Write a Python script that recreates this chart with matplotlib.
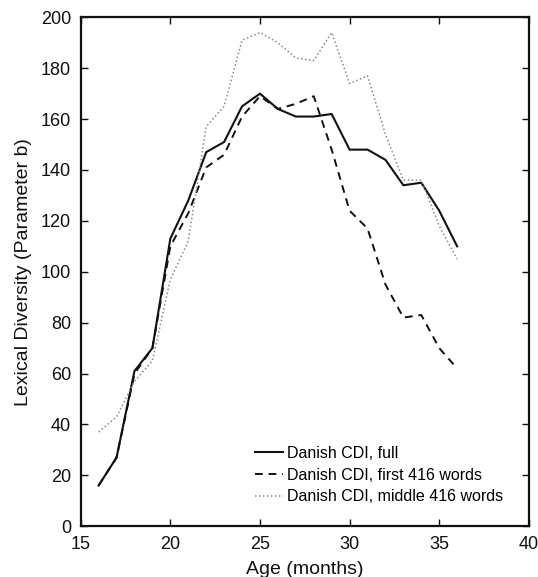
import matplotlib

matplotlib.use("Agg")
import matplotlib.pyplot as plt

plt.rcParams["font.family"] = ["Liberation Sans", "DejaVu Sans"]

# age in months
ages = list(range(16, 37))
# Lexical diversity (parameter b) per CDI version
full = [16, 27, 61, 70, 113, 128, 147, 151, 165, 170, 164, 161, 161, 162,
        148, 148, 144, 134, 135, 124, 110]
first_416 = [16, 27, 60, 70, 110, 123, 141, 146, 161, 169, 164, 166, 169, 148,
             124, 117, 95, 82, 83, 70, 62]
middle_416 = [37, 43, 57, 65, 97, 112, 157, 165, 191, 194, 190, 184, 183, 194,
              174, 177, 154, 136, 136, 118, 105]

xticks = [15, 20, 25, 30, 35, 40]
yticks = list(range(0, 201, 20))

fig = plt.figure(figsize=(5.38, 5.77), dpi=100)
ax = fig.add_axes([0.150, 0.088, 0.833, 0.882])

ax.plot(ages, full, color="#111111", lw=1.5, ls="-", label="Danish CDI, full")
ax.plot(ages, first_416, color="#111111", lw=1.4, ls=(0, (4, 3)),
        label="Danish CDI, first 416 words")
ax.plot(ages, middle_416, color="#8a8a8a", lw=1.1, ls=(0, (1, 1.6)),
        label="Danish CDI, middle 416 words")

ax.set_xlim(15, 40)
ax.set_ylim(0, 200)
ax.set_xticks(xticks)
ax.set_yticks(yticks)
ax.tick_params(direction="in", length=5, width=1, labelsize=13,
               top=True, right=True, colors="#111111", pad=7)
for side in ax.spines.values():
    side.set_linewidth(1.6)
    side.set_color("#111111")

ax.set_xlabel("Age (months)", fontsize=14, color="#111111", labelpad=6)
ax.set_ylabel("Lexical Diversity (Parameter b)", fontsize=14, color="#111111",
              labelpad=6)

ax.legend(loc="upper left", bbox_to_anchor=(0.389, 0.158), frameon=False,
          fontsize=11.5, handlelength=1.75, handletextpad=0.25, borderpad=0,
          borderaxespad=0, labelspacing=0.42)

fig.savefig("out.png", dpi=100, facecolor="white")
